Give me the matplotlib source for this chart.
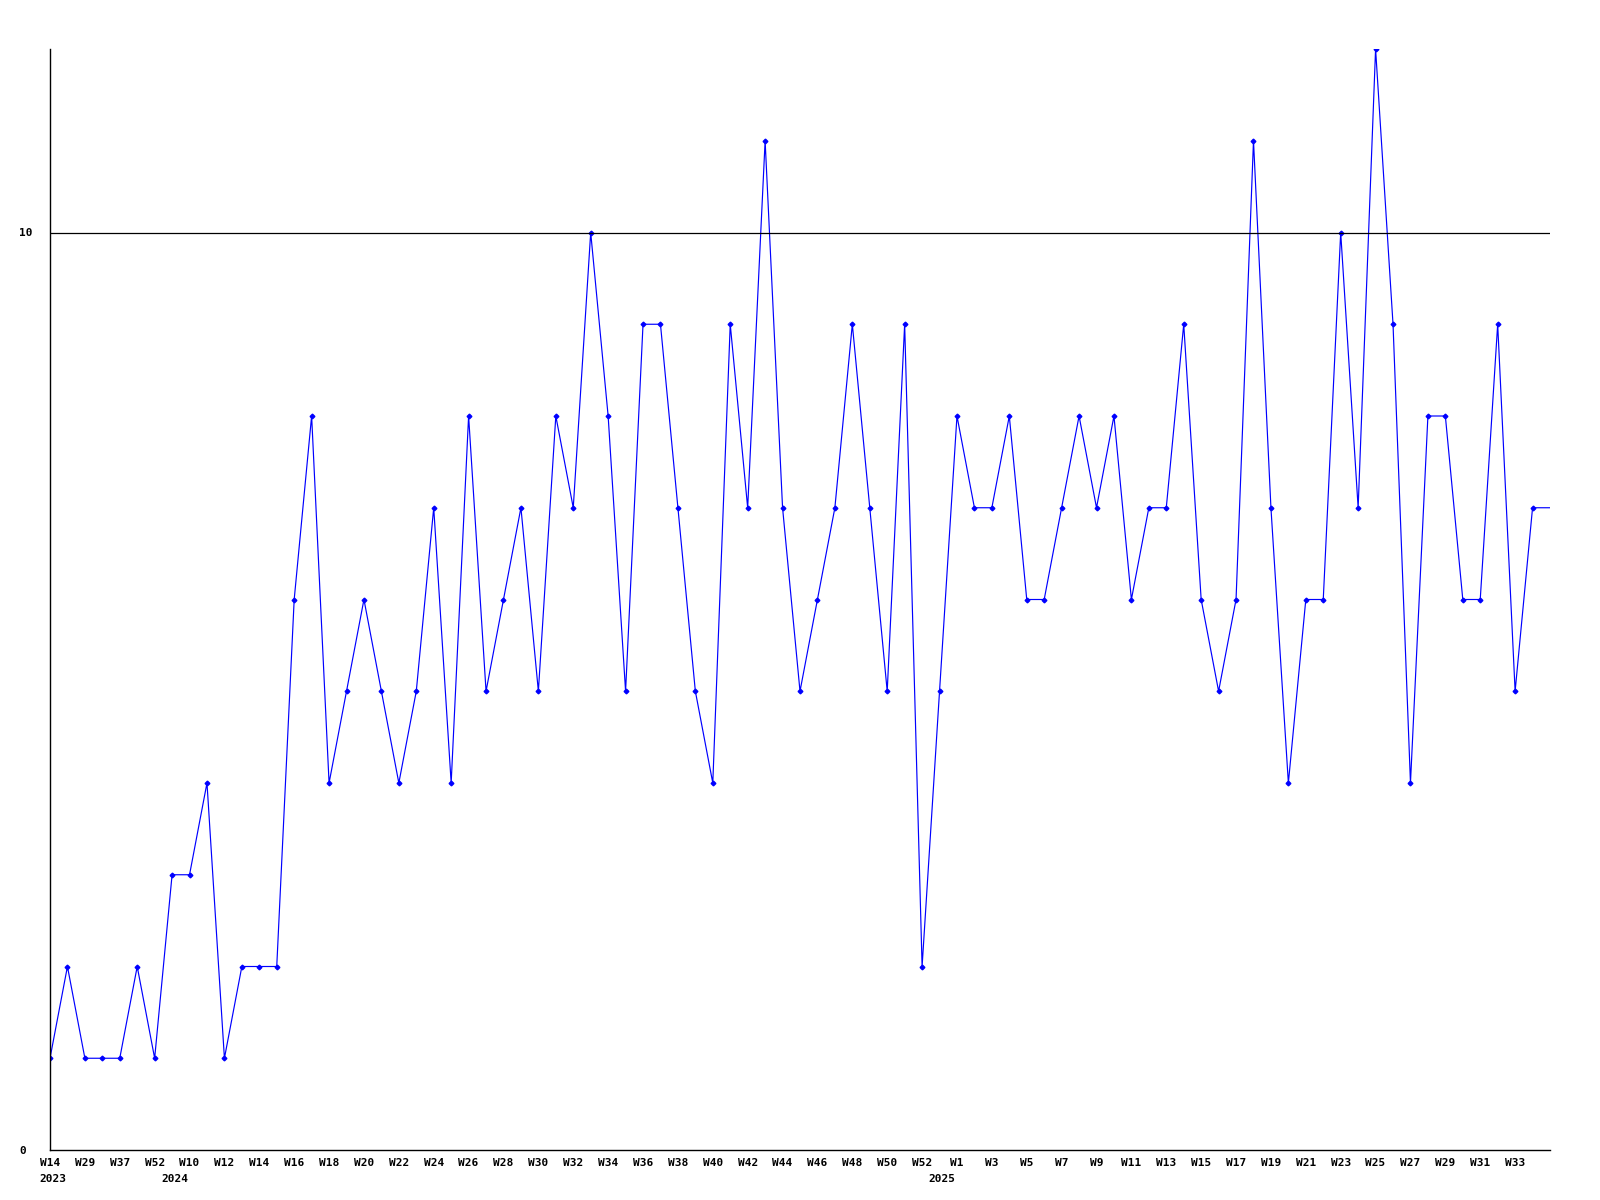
import numpy as np
import matplotlib
matplotlib.use("Agg")
import matplotlib.pyplot as plt

# weekly counts, one point per week present in the data
values = [1, 2, 1, 1, 1, 2, 1, 3, 3, 4,
          1, 2, 2, 2, 6, 8, 4, 5, 6, 5,
          4, 5, 7, 4, 8, 5, 6, 7, 5, 8,
          7, 10, 8, 5, 9, 9, 7, 5, 4, 9,
          7, 11, 7, 5, 6, 7, 9, 7, 5, 9,
          2, 5, 8, 7, 7, 8, 6, 6, 7, 8,
          7, 8, 6, 7, 7, 9, 6, 5, 6, 11,
          7, 4, 6, 6, 10, 7, 12, 9, 4, 8,
          8, 6, 6, 9, 5, 7]

# labels shown under every second point
tick_labels = ["W14", "W29", "W37", "W52", "W10", "W12", "W14", "W16", "W18", "W20",
               "W22", "W24", "W26", "W28", "W30", "W32", "W34", "W36", "W38", "W40",
               "W42", "W44", "W46", "W48", "W50", "W52", "W1", "W3", "W5", "W7",
               "W9", "W11", "W13", "W15", "W17", "W19", "W21", "W23", "W25", "W27",
               "W29", "W31", "W33"]

# first point of each year
year_labels = ["2023", "2024", "2025"]
year_starts = [0, 7, 51]

threshold = 10

x = np.arange(len(values))
# the line runs on flat to the end of the axis after the last point
x_line = np.append(x, len(values))
y_line = np.append(values, values[-1])

fig = plt.figure(figsize=(16, 12), dpi=100)
ax = fig.add_axes([50 / 1600, 50 / 1200, 1500 / 1600, 1101 / 1200])

font = dict(family="DejaVu Sans Mono", weight="bold", size=8)

ax.plot(x_line, y_line, color="#0000ff", lw=0.85, marker="D", markersize=2.4,
        markevery=list(range(len(values))))
ax.axhline(threshold, color="black", lw=0.9)

ax.set_xlim(0, len(values))
ax.set_ylim(0, 12)

for side in ["top", "right"]:
    ax.spines[side].set_visible(False)
for side in ["left", "bottom"]:
    ax.spines[side].set_linewidth(1.0)
    ax.spines[side].set_color("black")

ax.set_xticks(x[::2])
ax.set_xticklabels(tick_labels, fontdict=font)
ax.set_yticks([0, threshold])
ax.set_yticklabels(["0", "10"], fontdict=font, ha="left")
ax.tick_params(axis="x", length=0, pad=6)
ax.tick_params(axis="y", length=0, pad=22)

for lab, pos in zip(year_labels, year_starts):
    ax.annotate(lab, xy=(pos, 0), xycoords=("data", "axes fraction"),
                xytext=(-11, -29), textcoords="offset pixels",
                ha="left", va="center", **font)

fig.savefig("out.png", dpi=100, facecolor="white")
